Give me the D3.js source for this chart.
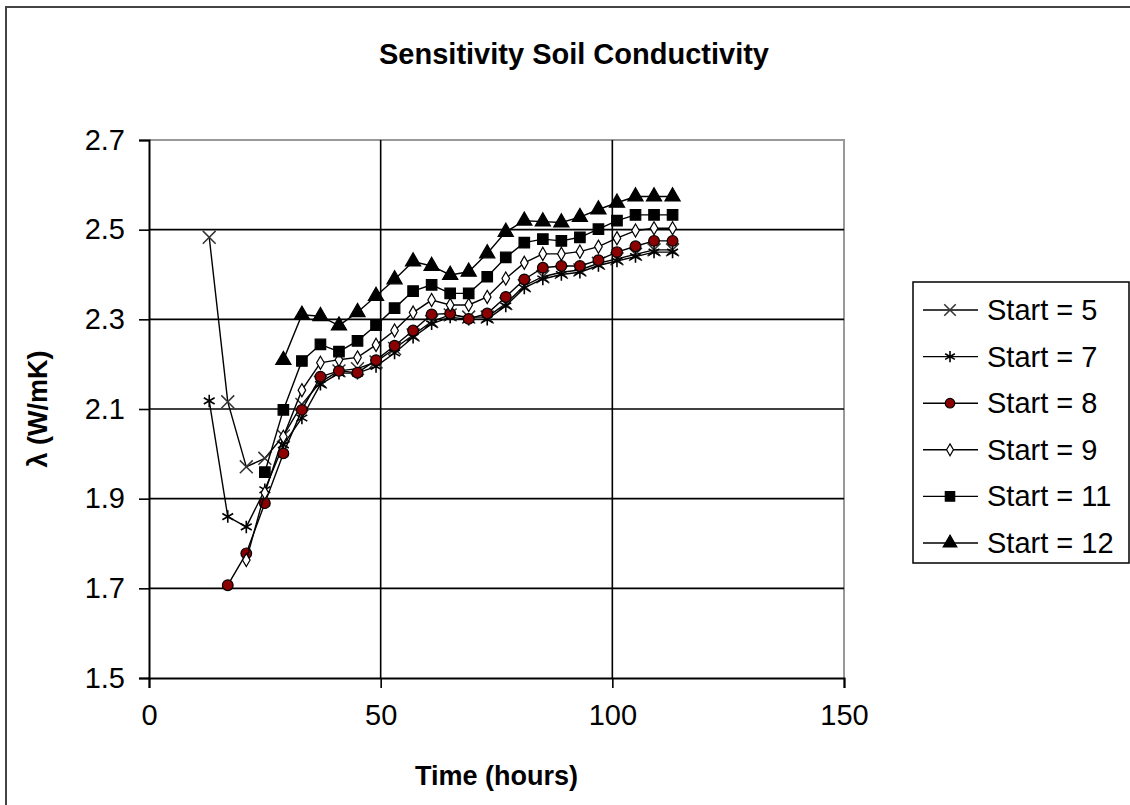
<!DOCTYPE html>
<html>
<head>
<meta charset="utf-8">
<script src="https://cdn.jsdelivr.net/npm/d3@7"></script>
<style>
  body { margin: 0; background: #fff; }
  svg { display: block; font-family: 'Liberation Sans', Arial, sans-serif; }
  .tick text { font-size: 29px; fill: #000; }
  .title { font-size: 29px; font-weight: bold; }
  .label { font-size: 27px; font-weight: bold; }
  .legend text { font-size: 29px; }
</style>
</head>
<body>
<svg width="1130" height="805"></svg>
<script>
const times = [13, 17, 21, 25, 29, 33, 37, 41, 45, 49, 53, 57, 61, 65, 69, 73, 77, 81, 85, 89, 93, 97, 101, 105, 109, 113];

const start5 = [2.483, 2.116, 1.971, 1.99, 2.04, 2.11, 2.16, 2.185, 2.19, 2.205, 2.235, 2.265, 2.295, 2.31, 2.305, 2.305, 2.335, 2.375, 2.395, 2.405, 2.41, 2.425, 2.435, 2.445, 2.455, 2.455];
const start7 = [2.118, 1.860, 1.837, 1.92, 2.02, 2.08, 2.155, 2.18, 2.18, 2.195, 2.225, 2.26, 2.29, 2.305, 2.30, 2.30, 2.33, 2.37, 2.39, 2.40, 2.405, 2.42, 2.43, 2.44, 2.45, 2.45];
const start8 = [null, 1.707, 1.778, 1.890, 2.001, 2.098, 2.172, 2.185, 2.181, 2.209, 2.241, 2.275, 2.311, 2.313, 2.301, 2.313, 2.350, 2.389, 2.415, 2.419, 2.419, 2.432, 2.450, 2.463, 2.475, 2.475];
const start9 = [null, null, 1.763, 1.913, 2.038, 2.142, 2.203, 2.21, 2.215, 2.243, 2.275, 2.315, 2.343, 2.332, 2.332, 2.350, 2.391, 2.426, 2.446, 2.446, 2.451, 2.462, 2.481, 2.498, 2.503, 2.503];
const start11 = [null, null, null, 1.959, 2.098, 2.207, 2.244, 2.228, 2.252, 2.287, 2.325, 2.363, 2.377, 2.358, 2.358, 2.395, 2.438, 2.471, 2.479, 2.475, 2.483, 2.501, 2.520, 2.533, 2.533, 2.533];
const start12 = [null, null, null, null, 2.209, 2.310, 2.307, 2.286, 2.316, 2.352, 2.389, 2.429, 2.419, 2.399, 2.406, 2.447, 2.495, 2.520, 2.518, 2.516, 2.528, 2.545, 2.560, 2.574, 2.574, 2.574];

const seriesNames = ['Start = 5', 'Start = 7', 'Start = 8', 'Start = 9', 'Start = 11', 'Start = 12'];
const xTicks = [0, 50, 100, 150];
const yTicks = [1.5, 1.7, 1.9, 2.1, 2.3, 2.5, 2.7];

const series = [
  {name: seriesNames[0], values: start5, symbol: d3.symbolX, size: 110, fill: 'none', stroke: '#333', sw: 1.5},
  {name: seriesNames[1], values: start7, symbol: d3.symbolAsterisk, size: 110, fill: 'none', stroke: '#000', sw: 1.6},
  {name: seriesNames[2], values: start8, symbol: d3.symbolCircle, size: 90, fill: '#8b0000', stroke: '#000', sw: 1.2},
  {name: seriesNames[3], values: start9, symbol: d3.symbolDiamond, size: 50, fill: '#fff', stroke: '#000', sw: 1.2},
  {name: seriesNames[4], values: start11, symbol: d3.symbolSquare, size: 110, fill: '#000', stroke: '#000', sw: 1.2},
  {name: seriesNames[5], values: start12, symbol: d3.symbolTriangle, size: 100, fill: '#000', stroke: '#000', sw: 1.2}
];

const svg = d3.select('svg');

// outer chart frame
svg.append('rect')
  .attr('x', 6).attr('y', 7)
  .attr('width', 1140).attr('height', 820)
  .attr('fill', 'none')
  .attr('stroke', '#444')
  .attr('stroke-width', 2);

const plotLeft = 149, plotTop = 140, plotW = 695, plotH = 538;

const x = d3.scaleLinear().domain([0, 150]).range([plotLeft, plotLeft + plotW]);
const y = d3.scaleLinear().domain([1.5, 2.7]).range([plotTop + plotH, plotTop]);

// plot border (top and right in grey)
svg.append('path')
  .attr('d', `M${plotLeft},${plotTop}H${plotLeft + plotW}V${plotTop + plotH}`)
  .attr('fill', 'none')
  .attr('stroke', '#999')
  .attr('stroke-width', 2);

// grid
svg.append('g')
  .selectAll('line')
  .data(yTicks.slice(1, -1))
  .join('line')
  .attr('x1', plotLeft).attr('x2', plotLeft + plotW)
  .attr('y1', d => y(d)).attr('y2', d => y(d))
  .attr('stroke', '#000').attr('stroke-width', 1.6);

svg.append('g')
  .selectAll('line')
  .data(xTicks.slice(1, -1))
  .join('line')
  .attr('y1', plotTop).attr('y2', plotTop + plotH)
  .attr('x1', d => x(d)).attr('x2', d => x(d))
  .attr('stroke', '#000').attr('stroke-width', 1.6);

// axes
const xAxis = svg.append('g')
  .attr('transform', `translate(0, ${plotTop + plotH})`)
  .call(d3.axisBottom(x).tickValues(xTicks).tickSize(10).tickPadding(16).tickFormat(d3.format('d')));
const yAxis = svg.append('g')
  .attr('transform', `translate(${plotLeft}, 0)`)
  .call(d3.axisLeft(y).tickValues(yTicks).tickSize(10).tickPadding(14).tickFormat(d3.format('.1f')));
[xAxis, yAxis].forEach(a => {
  a.select('.domain').attr('stroke', '#000').attr('stroke-width', 2);
  a.selectAll('.tick line').attr('stroke', '#000').attr('stroke-width', 1.6);
  a.attr('font-family', null).attr('font-size', null);
});

// lines and markers
const line = d3.line()
  .defined(d => d.v !== null)
  .x(d => x(d.t))
  .y(d => y(d.v));

series.forEach(s => {
  const pts = times.map((t, i) => ({t, v: s.values[i]}));
  svg.append('path')
    .datum(pts)
    .attr('d', line)
    .attr('fill', 'none')
    .attr('stroke', '#000')
    .attr('stroke-width', 1.4);
  svg.append('g')
    .selectAll('path')
    .data(pts.filter(d => d.v !== null))
    .join('path')
    .attr('transform', d => `translate(${x(d.t)}, ${y(d.v)})`)
    .attr('d', d3.symbol(s.symbol, s.size))
    .attr('fill', s.fill)
    .attr('stroke', s.stroke)
    .attr('stroke-width', s.sw);
});

// titles
svg.append('text')
  .attr('class', 'title')
  .attr('x', 574).attr('y', 64)
  .attr('text-anchor', 'middle')
  .text('Sensitivity Soil Conductivity');

svg.append('text')
  .attr('class', 'label')
  .attr('x', plotLeft + plotW / 2).attr('y', 785)
  .attr('text-anchor', 'middle')
  .text('Time (hours)');

svg.append('text')
  .attr('class', 'label')
  .attr('transform', `translate(47, ${plotTop + plotH / 2}) rotate(-90)`)
  .attr('text-anchor', 'middle')
  .text('λ (W/mK)');

// legend
const legend = svg.append('g').attr('class', 'legend');
legend.append('rect')
  .attr('x', 913).attr('y', 282)
  .attr('width', 216).attr('height', 281)
  .attr('fill', '#fff')
  .attr('stroke', '#000')
  .attr('stroke-width', 1.5);

const rows = legend.selectAll('g.row')
  .data(series)
  .join('g')
  .attr('class', 'row')
  .attr('transform', (d, i) => `translate(0, ${310 + i * 46.6})`);
rows.append('line')
  .attr('x1', 923).attr('x2', 978)
  .attr('stroke', '#000').attr('stroke-width', 1.4);
rows.append('path')
  .attr('transform', 'translate(950, 0)')
  .attr('d', d => d3.symbol(d.symbol, d.size * 0.8)())
  .attr('fill', d => d.fill)
  .attr('stroke', d => d.stroke)
  .attr('stroke-width', d => d.sw);
rows.append('text')
  .attr('x', 987).attr('y', 10)
  .text(d => d.name);
</script>
</body>
</html>
